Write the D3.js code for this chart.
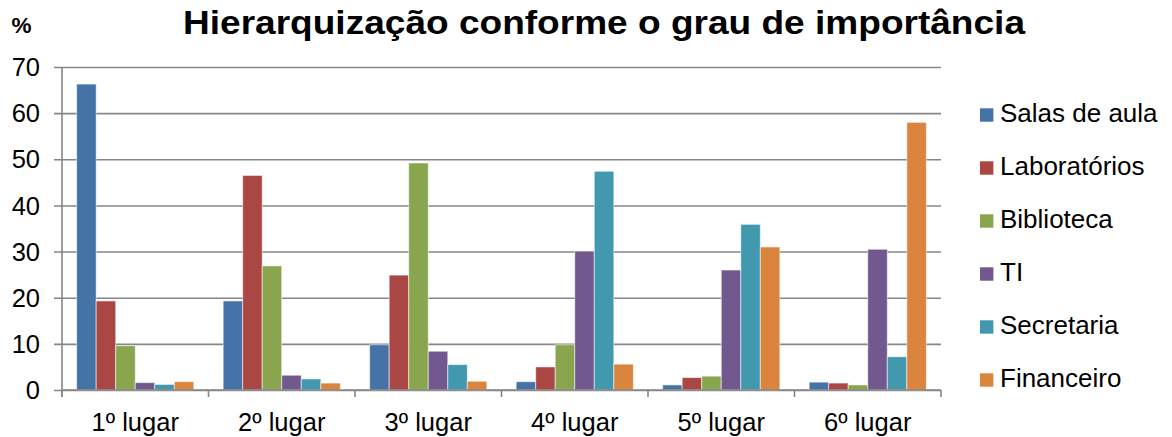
<!DOCTYPE html>
<html>
<head>
<meta charset="utf-8">
<script src="https://cdn.jsdelivr.net/npm/d3@7"></script>
<style>
  html, body { margin: 0; padding: 0; background: #fff; }
  svg { display: block; font-family: "Liberation Sans", Arial, sans-serif; }
</style>
</head>
<body>
<svg id="chart" width="1172" height="437"></svg>
<script>
// Ranking positions (x categories)
const positions = ["1º lugar", "2º lugar", "3º lugar", "4º lugar", "5º lugar", "6º lugar"];

// Series names and colours
const seriesNames = ["Salas de aula", "Laboratórios", "Biblioteca", "TI", "Secretaria", "Financeiro"];
const seriesColors = ["#4572A7", "#AA4643", "#89A54E", "#71588F", "#4198AF", "#DB843D"];

// Percentages per series, one value per ranking position
const salasDeAula  = [66.3, 19.3,  9.8,  1.8,  1.1,  1.7];
const laboratorios = [19.3, 46.5, 24.9,  5.0,  2.7,  1.5];
const biblioteca   = [ 9.6, 26.9, 49.2,  9.8,  3.0,  1.1];
const ti           = [ 1.6,  3.2,  8.4, 30.1, 26.0, 30.5];
const secretaria   = [ 1.2,  2.4,  5.5, 47.4, 35.9,  7.2];
const financeiro   = [ 1.8,  1.5,  1.9,  5.6, 31.0, 58.0];

// Y axis ticks
const yTicks = [0, 10, 20, 30, 40, 50, 60, 70];

const seriesValues = [salasDeAula, laboratorios, biblioteca, ti, secretaria, financeiro];

const svg = d3.select("#chart");
const plot = { left: 62, right: 941, top: 67, bottom: 390 };

const x0 = d3.scaleBand().domain(positions).range([plot.left, plot.right]).paddingInner(0).paddingOuter(0);
const x1 = d3.scaleBand().domain(seriesNames).range([0, x0.bandwidth()]).paddingInner(0).paddingOuter(0.75);
const y = d3.scaleLinear().domain([0, 70]).range([plot.bottom, plot.top]);

const gridColor = "#868686";

// Horizontal gridlines with the y tick marks extending left of the axis
const yAxis = d3.axisLeft(y).tickValues(yTicks).tickSize(plot.right - plot.left + 8).tickPadding(14).tickFormat(d3.format("d"));
const gy = svg.append("g")
  .attr("transform", `translate(${plot.right},0)`)
  .call(yAxis);
gy.select(".domain").remove();
gy.selectAll(".tick line").attr("stroke", gridColor).attr("stroke-width", 1.6);
gy.selectAll(".tick text")
  .attr("fill", "#000")
  .style("font-size", "25.5px")
  .attr("dy", "0.34em");

// Y axis line
svg.append("line")
  .attr("x1", plot.left).attr("x2", plot.left)
  .attr("y1", plot.top).attr("y2", plot.bottom + 7)
  .attr("stroke", gridColor).attr("stroke-width", 1.6);

// Bars
const groups = svg.append("g").selectAll("g")
  .data(positions)
  .join("g")
  .attr("transform", d => `translate(${x0(d)},0)`);

groups.selectAll("rect")
  .data((pos, i) => seriesNames.map((name, s) => ({ name, color: seriesColors[s], value: seriesValues[s][i] })))
  .join("rect")
  .attr("x", d => x1(d.name))
  .attr("width", x1.bandwidth())
  .attr("y", d => y(d.value))
  .attr("height", d => y(0) - y(d.value))
  .attr("fill", d => d.color)
  .attr("stroke", "rgba(255,255,255,0.55)")
  .attr("stroke-width", 1);

// X axis with category boundary ticks
const xBoundaries = positions.map(p => x0(p)).concat([plot.right]);
svg.append("line")
  .attr("x1", plot.left).attr("x2", plot.right)
  .attr("y1", plot.bottom).attr("y2", plot.bottom)
  .attr("stroke", gridColor).attr("stroke-width", 1.6);
svg.append("g").selectAll("line")
  .data(xBoundaries)
  .join("line")
  .attr("x1", d => d).attr("x2", d => d)
  .attr("y1", plot.bottom).attr("y2", plot.bottom + 7)
  .attr("stroke", gridColor).attr("stroke-width", 1.6);

svg.append("g").selectAll("text")
  .data(positions)
  .join("text")
  .attr("x", d => x0(d) + x0.bandwidth() / 2)
  .attr("y", 430.5)
  .attr("text-anchor", "middle")
  .style("font-size", "25.5px")
  .attr("fill", "#000")
  .text(d => d);

// Title and unit label
svg.append("text")
  .attr("x", 604)
  .attr("y", 33.5)
  .attr("text-anchor", "middle")
  .attr("textLength", 842)
  .attr("lengthAdjust", "spacingAndGlyphs")
  .style("font-size", "33.5px")
  .style("font-weight", "bold")
  .text("Hierarquização conforme o grau de importância");

svg.append("text")
  .attr("x", 11.5)
  .attr("y", 33)
  .style("font-size", "22.5px")
  .style("font-weight", "bold")
  .text("%");

// Legend
const legend = svg.append("g").selectAll("g")
  .data(seriesNames)
  .join("g")
  .attr("transform", (d, i) => `translate(980,${121.7 + i * 53})`);
legend.append("rect")
  .attr("x", 0).attr("y", -13.4)
  .attr("width", 13.4).attr("height", 13.4)
  .attr("fill", (d, i) => seriesColors[i]);
legend.append("text")
  .attr("x", 20)
  .attr("y", 0)
  .style("font-size", "26px")
  .attr("fill", "#000")
  .text(d => d);
</script>
</body>
</html>
